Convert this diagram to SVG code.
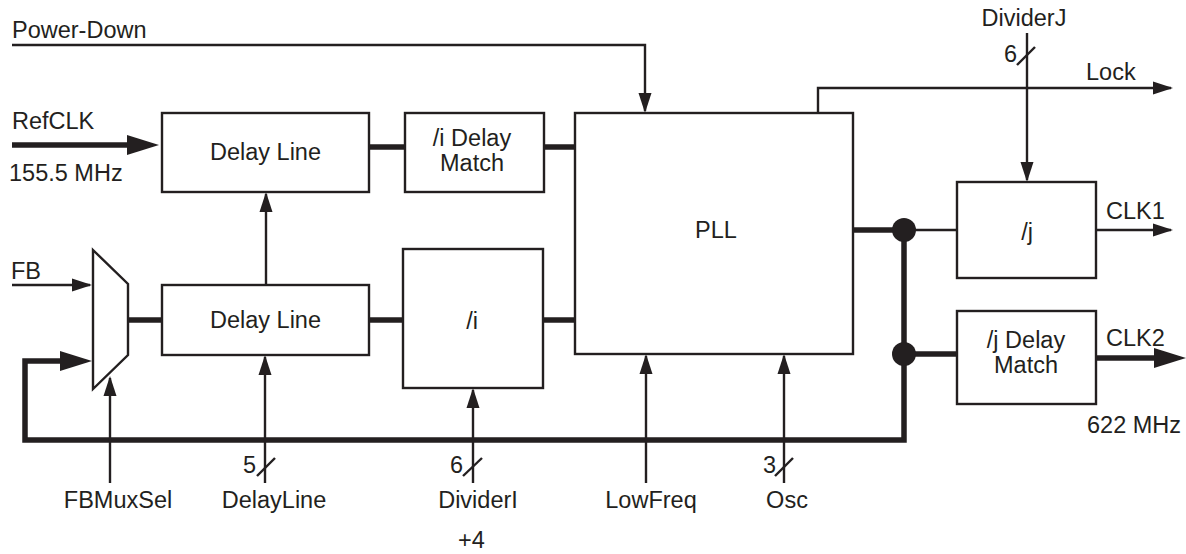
<svg xmlns="http://www.w3.org/2000/svg" width="1186" height="554" viewBox="0 0 1186 554">
<style>
text{font-family:"Liberation Sans",Arial,sans-serif;font-size:23.5px;fill:#231f20}
.c{text-anchor:middle}
.box{fill:#fff;stroke:#231f20;stroke-width:2.4}
.thin{fill:none;stroke:#231f20;stroke-width:2.4}
.thick{fill:none;stroke:#231f20;stroke-width:5.5}
.dot{fill:#231f20}
</style>
<defs>
<marker id="ah" markerUnits="userSpaceOnUse" markerWidth="22" markerHeight="14" refX="18" refY="7" orient="auto"><path d="M0,0.5 L20,7 L0,13.5 z" fill="#231f20"/></marker>
</defs>
<g id="connectors">
<polyline class="thin" points="12,45 645,45 645,111" marker-end="url(#ah)"/>
<line class="thick" x1="12" y1="145" x2="129" y2="145"/>
<path d="M127,135 L159,145 L127,155 z" fill="#231f20"/>
<line class="thick" x1="369" y1="147" x2="405" y2="147"/>
<line class="thick" x1="544" y1="147" x2="575" y2="147"/>
<line class="thin" x1="266" y1="285" x2="266" y2="194" marker-end="url(#ah)"/>
<line class="thin" x1="12" y1="285" x2="90" y2="285" marker-end="url(#ah)"/>
<polyline class="thick" points="904,230 904,440 25,440 25,361 62,361"/>
<path d="M60,351 L92,361 L60,371 z" fill="#231f20"/>
<line class="thick" x1="128" y1="320" x2="162" y2="320"/>
<line class="thick" x1="369" y1="320" x2="403" y2="320"/>
<line class="thick" x1="543" y1="320" x2="575" y2="320"/>
<line class="thin" x1="110" y1="483" x2="110" y2="378" marker-end="url(#ah)"/>
<line class="thin" x1="265" y1="483" x2="265" y2="357" marker-end="url(#ah)"/>
<line class="thin" x1="473" y1="483" x2="473" y2="390" marker-end="url(#ah)"/>
<line class="thin" x1="646" y1="483" x2="646" y2="356" marker-end="url(#ah)"/>
<line class="thin" x1="784" y1="483" x2="784" y2="356" marker-end="url(#ah)"/>
<line class="thin" x1="257" y1="476" x2="275" y2="458"/>
<line class="thin" x1="463" y1="476" x2="482" y2="458"/>
<line class="thin" x1="775" y1="476" x2="793" y2="458"/>
<polyline class="thin" points="818,113 818,88 1171,88" marker-end="url(#ah)"/>
<line class="thin" x1="1027" y1="33" x2="1027" y2="180" marker-end="url(#ah)"/>
<line class="thin" x1="1017" y1="65" x2="1035" y2="47"/>
<line class="thick" x1="853" y1="230" x2="904" y2="230"/>
<line class="thin" x1="904" y1="230" x2="957" y2="230"/>
<line class="thick" x1="904" y1="354" x2="957" y2="354"/>
<circle class="dot" cx="904" cy="230" r="12"/>
<circle class="dot" cx="904" cy="354" r="12"/>
<line class="thin" x1="1096" y1="230" x2="1171" y2="230" marker-end="url(#ah)"/>
<line class="thick" x1="1096" y1="358" x2="1156" y2="358"/>
<path d="M1154,348 L1186,358 L1154,368 z" fill="#231f20"/>
</g>
<g id="delay1"><rect class="box" x="162" y="113" width="207" height="79"/><text class="c" x="265.5" y="160">Delay Line</text></g>
<g id="idelaymatch"><rect class="box" x="405" y="113" width="139" height="79"/><text class="c" x="472" y="146">/i Delay</text><text class="c" x="472" y="171">Match</text></g>
<g id="pll"><rect class="box" x="575" y="113" width="278" height="241"/><text class="c" x="716" y="238">PLL</text></g>
<g id="delay2"><rect class="box" x="162" y="285" width="207" height="70"/><text class="c" x="265.5" y="328">Delay Line</text></g>
<g id="idiv"><rect class="box" x="403" y="249" width="140" height="139"/><text class="c" x="472" y="329">/i</text></g>
<g id="mux"><polygon class="box" points="93,250 128,284 128,355 93,389"/></g>
<g id="jdiv"><rect class="box" x="957" y="182" width="139" height="96"/><text class="c" x="1027" y="240">/j</text></g>
<g id="jdelaymatch"><rect class="box" x="957" y="311" width="139" height="93"/><text class="c" x="1026" y="348">/j Delay</text><text class="c" x="1026" y="373">Match</text></g>
<g id="labels">
<text x="12" y="38">Power-Down</text>
<text x="12" y="129">RefCLK</text>
<text x="9" y="181">155.5 MHz</text>
<text x="11" y="279">FB</text>
<text x="1086" y="80">Lock</text>
<text class="c" x="1024" y="26">DividerJ</text>
<text x="1004" y="62">6</text>
<text x="1106" y="219">CLK1</text>
<text x="1106" y="346">CLK2</text>
<text x="1087" y="433">622 MHz</text>
<text class="c" x="118" y="508">FBMuxSel</text>
<text class="c" x="274" y="508">DelayLine</text>
<text class="c" x="478" y="508">DividerI</text>
<text class="c" x="651" y="508">LowFreq</text>
<text class="c" x="787" y="508">Osc</text>
<text x="243" y="473">5</text>
<text x="450" y="473">6</text>
<text x="763" y="473">3</text>
<text x="458" y="548">+4</text>
</g>
</svg>
